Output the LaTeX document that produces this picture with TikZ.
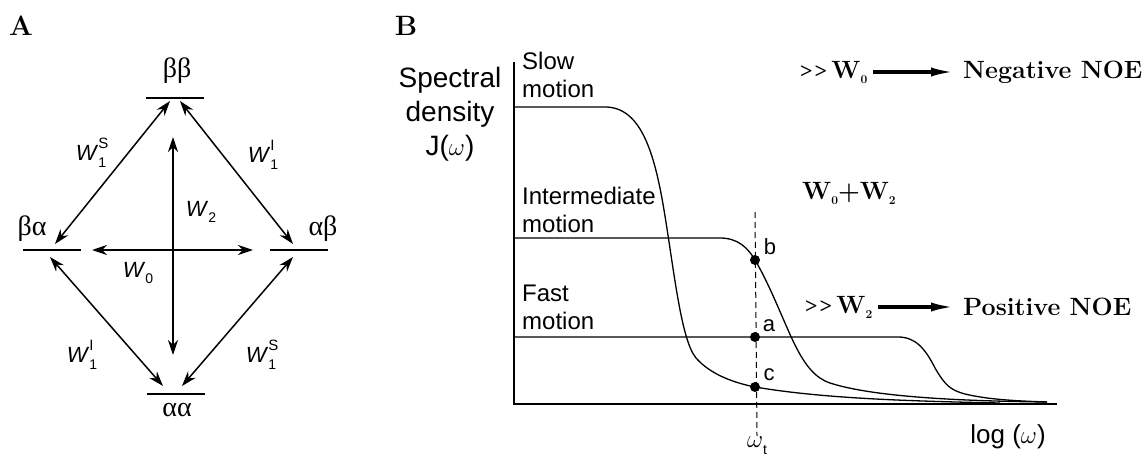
\documentclass[tikz,border=0pt]{standalone}
\usepackage{fontspec}
\setsansfont{Liberation Sans}
\newfontfamily\grkfont{Liberation Serif}
\usetikzlibrary{arrows.meta}

\newcommand{\smallsub}[1]{\raisebox{-0.3em}{\fontsize{14}{14}\selectfont #1}}
\newcommand{\rateW}[2]{\textit{W}\makebox[0pt][l]{\raisebox{0.55em}{\fontsize{15}{15}\selectfont #1}}\smallsub{#2}}
\newcommand{\boldsub}[1]{\raisebox{-0.2em}{\fontsize{12}{12}\selectfont\bfseries #1}}
\newcommand{\muchgt}{{\grkfont\fontsize{22}{22}\selectfont >\kern2pt>}}

\tikzset{
  panel/.style={font=\bfseries\fontsize{28}{28}\selectfont, inner sep=0pt},
  lvl/.style={font=\grkfont\fontsize{28}{30}\selectfont, inner sep=0pt},
  rate/.style={font=\sffamily\fontsize{22}{26}\selectfont, inner sep=0pt},
  trans/.style={{Stealth[length=15pt,width=10pt]}-{Stealth[length=15pt,width=10pt]}, line width=1.5pt},
  motion/.style={font=\sffamily\fontsize{24}{28}\selectfont, align=left, inner sep=0pt, anchor=south west},
  ptlbl/.style={font=\sffamily\fontsize{22}{22}\selectfont, inner sep=0pt},
  dot/.style={circle, fill, inner sep=0pt, minimum size=10pt},
  noe/.style={font=\bfseries\fontsize{25}{28}\selectfont, inner sep=0pt, anchor=west},
  fat/.style={-{Latex[length=24pt,width=9pt]}, line width=3.5pt, shorten <=6pt, shorten >=8pt},
  curve/.style={line width=1.3pt},
}

\begin{document}
\begin{tikzpicture}[x=1pt,y=-1pt]
\useasboundingbox (0,0) rectangle (1148,457);

% A: energy levels of the two spins
\node[panel] (pa) at (21,26) {A};
\coordinate (bb) at (175,98);
\coordinate (ba) at (52,250);
\coordinate (ab) at (299,250);
\coordinate (aa) at (176,394);
\foreach \lv in {bb,ba,ab,aa}
  \draw[line width=1.4pt] ([xshift=-29pt]\lv) -- ([xshift=29pt]\lv);
\node[lvl] (tbb) at (177,71) {ββ};
\node[lvl] (tba) at (32,229) {βα};
\node[lvl] (tab) at (323,229) {αβ};
\node[lvl] (taa) at (177,410) {αα};

\draw[trans] ([shift={(-5pt,-3pt)}]bb) -- ([shift={(3pt,6pt)}]ba);
\draw[trans] ([shift={(5pt,-3pt)}]bb) -- ([shift={(-6pt,6pt)}]ab);
\draw[trans] ([shift={(-2pt,-7pt)}]ba) -- ([shift={(-13pt,8pt)}]aa);
\draw[trans] ([shift={(-6pt,-7pt)}]ab) -- ([shift={(6pt,8pt)}]aa);

\coordinate (w2t) at (173,137);
\coordinate (w2b) at (173,355);
\coordinate (w0l) at (92,250);
\coordinate (w0r) at (253,250);
\draw[trans] (w2t) -- (w2b);
\draw[trans] (w0l) -- (w0r);

\node[rate] (r1) at (91,153) {\rateW{S}{1}};
\node[rate] (r2) at (263,155) {\rateW{I}{1}};
\node[rate] (r3) at (201,212) {\rateW{}{2}};
\node[rate] (r4) at (138,273) {\rateW{}{0}};
\node[rate] (r5) at (82,355) {\rateW{I}{1}};
\node[rate] (r6) at (261,355) {\rateW{S}{1}};

% B: spectral density
\node[panel] (pb) at (406,26) {B};
\coordinate (ytop) at (514,62);
\coordinate (orig) at (514,404);
\coordinate (xend) at (1057,404);
\draw[line width=1.4pt] (ytop) -- (orig) -- (xend);

\node[font=\sffamily\fontsize{28}{34}\selectfont, align=center, inner sep=0pt] (sd) at (450,114) {Spectral\\density\\J($\omega$)};

\node[motion] (slow) at (522,98) {Slow\\motion};
\node[motion] (inter) at (522,233) {Intermediate\\motion};
\node[motion] (fast) at (522,330) {Fast\\motion};

\draw[curve] (514,107) -- (605,107) .. controls (640,107) and (654,150) .. (664,210)
  .. controls (674,270) and (681,340) .. (696,358)
  .. controls (711,375) and (735,383) .. (755,387)
  .. controls (820,398) and (900,401) .. (1000,403);
\draw[curve] (514,238) -- (720,238) .. controls (738,238) and (748,248) .. (755,260)
  .. controls (770,285) and (785,325) .. (795,345)
  .. controls (805,365) and (815,378) .. (830,383)
  .. controls (870,396) and (950,401) .. (1047,402);
\draw[curve] (514,337) -- (898,337) .. controls (915,337) and (925,348) .. (935,368)
  .. controls (945,385) and (950,390) .. (965,394)
  .. controls (990,400) and (1020,401) .. (1047,402);

\coordinate (dtop) at (755,212);
\node[font=\sffamily\fontsize{24}{24}\selectfont, inner sep=1pt] (wt) at (757,446) {$\omega$\smallsub{t}};
\draw[line width=1pt, dash pattern=on 6pt off 4pt] (dtop) -- (wt.north);

\node[dot] (db) at (755,260) {};
\node[dot] (da) at (755,337) {};
\node[dot] (dc) at (755,387) {};
\node[ptlbl] (lb) at (770,247) {b};
\node[ptlbl] (la) at (769,326) {a};
\node[ptlbl] (lc) at (769,375) {c};

\node[font=\sffamily\fontsize{26}{26}\selectfont, inner sep=0pt] (lg) at (1008,437) {log ($\omega$)};

\node[noe] (negw) at (800,72) {\muchgt\,W\boldsub{0}};
\node[noe] (negt) at (963,72) {Negative NOE};
\draw[fat] (negw) -- (negt);
\node[noe] (sum) at (802,193) {W\boldsub{0}+W\boldsub{2}};
\node[noe] (posw) at (805,307) {\muchgt\,W\boldsub{2}};
\node[noe] (post) at (963,307) {Positive NOE};
\draw[fat] (posw) -- (post);
\end{tikzpicture}
\end{document}
